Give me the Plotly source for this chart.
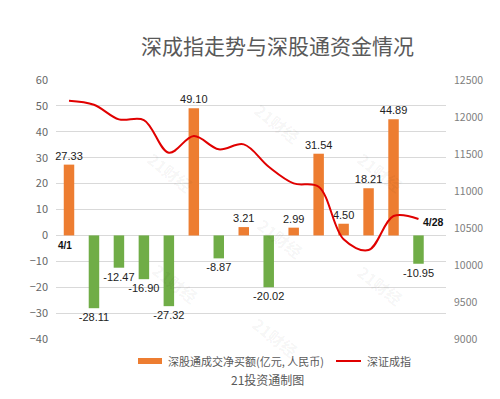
import plotly.graph_objects as go

dates = ['4/1', '4/6', '4/7', '4/8', '4/11', '4/12', '4/13', '4/14',
         '4/19', '4/20', '4/21', '4/22', '4/25', '4/26', '4/28']
net_buy = [27.33, -28.11, -12.47, -16.90, -27.32, 49.10, -8.87, 3.21,
           -20.02, 2.99, 31.54, 4.50, 18.21, 44.89, -10.95]
szci = [12220, 12165, 11968, 11959, 11517, 11743, 11563, 11630,
        11328, 11103, 11058, 10347, 10202, 10662, 10621]

left_ticks = [60, 50, 40, 30, 20, 10, 0, -10, -20, -30, -40]
right_ticks = [12500, 12000, 11500, 11000, 10500, 10000, 9500, 9000]

ORANGE = '#ED7D31'
GREEN = '#70AD47'
RED = '#E00000'
GRAY = '#595959'

# page body margin offset (browser default)
OFF = 8
# plot area in window pixels
L, R, T, B = 56, 446, 80, 339
W, H = 500 - OFF, 399 - OFF


def fx(px):
    return (px - L) / (R - L)


def fy(py):
    return (B - py) / (B - T)


bar_colors = [ORANGE if v >= 0 else GREEN for v in net_buy]
bar_text = ['%.2f' % v for v in net_buy]

fig = go.Figure()
fig.add_trace(go.Bar(
    x=dates, y=net_buy, marker=dict(color=bar_colors, line=dict(width=0)),
    width=0.42, text=bar_text, textposition='outside', cliponaxis=False,
    constraintext='none',
    textfont=dict(family='Liberation Sans', size=11, color='#222222'),
    name='深股通成交净买额(亿元, 人民币)', showlegend=False,
    hoverinfo='skip'))
fig.add_trace(go.Scatter(
    x=dates, y=szci, yaxis='y2', mode='lines',
    line=dict(color=RED, width=2, shape='spline', smoothing=1.0),
    name='深证成指', showlegend=False, cliponaxis=False))

annotations = [
    dict(text='深成指走势与深股通资金情况', xref='paper', yref='paper',
         x=fx(277), y=fy(45), xanchor='center', yanchor='middle',
         showarrow=False,
         font=dict(family='Noto Sans CJK SC', size=21, color=GRAY)),
    dict(text='<b>4/1</b>', xref='x', yref='y', x=dates[0], y=0,
         xshift=-4, yshift=-10, showarrow=False,
         xanchor='center', yanchor='middle',
         font=dict(family='Liberation Sans', size=10, color='#111111')),
    dict(text='<b>4/28</b>', xref='x', yref='y2', x=dates[-1], y=szci[-1],
         xshift=15, yshift=-3, showarrow=False,
         xanchor='center', yanchor='middle',
         font=dict(family='Liberation Sans', size=10.5, color='#111111')),
    dict(text='深股通成交净买额(亿元, 人民币)', xref='paper', yref='paper',
         x=fx(166), y=fy(361), xanchor='left', yanchor='middle',
         showarrow=False,
         font=dict(family='Noto Sans CJK SC', size=11, color=GRAY)),
    dict(text='深证成指', xref='paper', yref='paper',
         x=fx(365), y=fy(361), xanchor='left', yanchor='middle',
         showarrow=False,
         font=dict(family='Noto Sans CJK SC', size=11, color=GRAY)),
    dict(text='21投资通制图', xref='paper', yref='paper',
         x=fx(267), y=fy(379), xanchor='center', yanchor='middle',
         showarrow=False,
         font=dict(family='Noto Sans CJK SC', size=12, color=GRAY)),
]

for (wx, wy) in [(170, 172), (277, 123), (380, 172), (175, 283),
                 (280, 238), (380, 285), (275, 337)]:
    annotations.append(dict(
        text='<b>21财经</b>', xref='paper', yref='paper', x=fx(wx), y=fy(wy),
        xanchor='center', yanchor='middle',
        showarrow=False, textangle=38,
        font=dict(family='Noto Sans CJK SC', size=16,
                  color='rgba(0,0,0,0.05)')))

shapes = [
    dict(type='rect', xref='paper', yref='paper',
         x0=fx(138), x1=fx(162), y0=fy(358), y1=fy(364),
         fillcolor=ORANGE, line=dict(width=0)),
    dict(type='line', xref='paper', yref='paper',
         x0=fx(336), x1=fx(361), y0=fy(361), y1=fy(361),
         line=dict(color=RED, width=2)),
]

fig.update_layout(
    width=W, height=H,
    margin=dict(l=L - OFF, r=500 - R, t=T - OFF, b=399 - B, pad=0),
    paper_bgcolor='white', plot_bgcolor='white',
    xaxis=dict(type='category', showticklabels=False, showgrid=False,
               zeroline=False, showline=False, ticks=''),
    yaxis=dict(range=[-40, 60], tickvals=left_ticks, tickformat='d',
               showgrid=True,
               gridcolor='#d9d9d9', gridwidth=1, zeroline=True,
               zerolinecolor='#d9d9d9', zerolinewidth=1, showline=False,
               ticks='', ticklabelstandoff=7, automargin=False,
               tickfont=dict(family='Noto Sans CJK SC', size=11,
                             color='#666666')),
    yaxis2=dict(range=[9000, 12500], tickvals=right_ticks, tickformat='d',
                overlaying='y',
                side='right', showgrid=False, zeroline=False, showline=False,
                ticks='', ticklabelstandoff=7, automargin=False,
                tickfont=dict(family='Noto Sans CJK SC', size=10.5,
                              color='#808080')),
    annotations=annotations, shapes=shapes,
    showlegend=False,
)

fig.write_html('out.html')
